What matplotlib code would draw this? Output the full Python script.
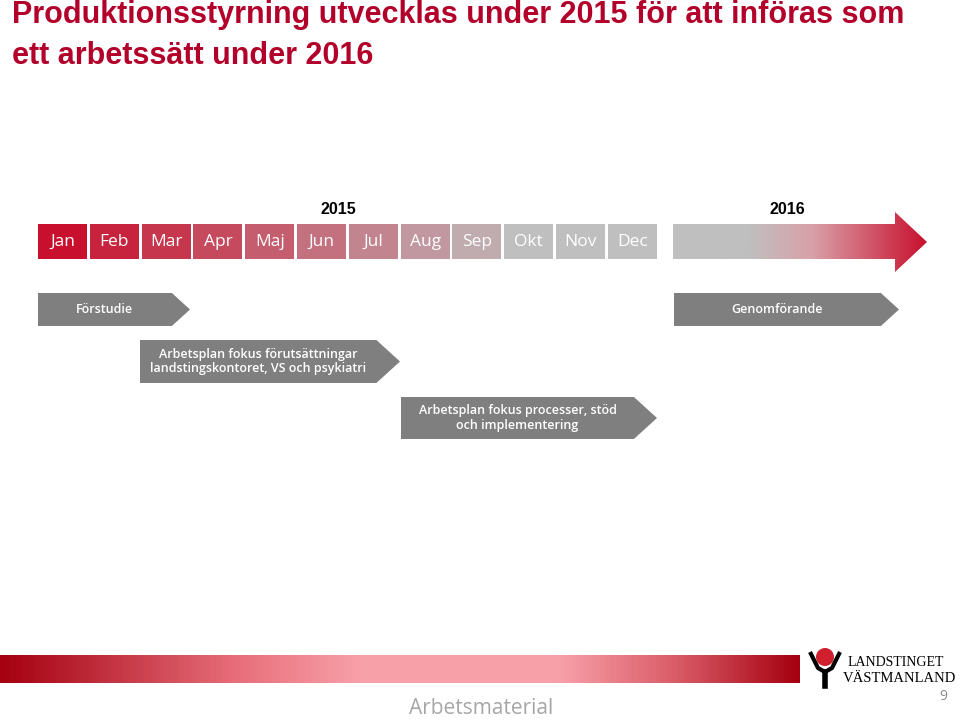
import numpy as np
import matplotlib.pyplot as plt
from matplotlib.patches import Polygon, Rectangle, Circle
from matplotlib.colors import LinearSegmentedColormap, to_rgb

months = ['Jan', 'Feb', 'Mar', 'Apr', 'Maj', 'Jun', 'Jul', 'Aug', 'Sep', 'Okt', 'Nov', 'Dec']
years = ['2015', '2016']
phases = ['Förstudie', 'Genomförande',
          'Arbetsplan fokus förutsättningar\nlandstingskontoret, VS och psykiatri',
          'Arbetsplan fokus processer, stöd\noch implementering']
# x0, x1, y0, y1 in slide pixels
phase_boxes = [(38, 190, 293, 326), (674, 899, 293, 326),
               (140, 400, 340, 383), (401, 657, 397, 439)]

RED = '#c8102e'
GRAY = '#bfbfbf'
PHASE = '#7f7f7f'

fig = plt.figure(figsize=(9.6, 7.21), dpi=100)
ax = fig.add_axes([0, 0, 1, 1])
ax.set_xlim(0, 960)
ax.set_ylim(721, 0)
ax.axis('off')

font = 'Liberation Sans'
ax.text(12, 15, 'Produktionsstyrning utvecklas under 2015 för att införas som',
        color='#b3002a', fontsize=22, fontweight='bold', family=font, va='center')
ax.text(12, 56, 'ett arbetssätt under 2016',
        color='#b3002a', fontsize=22, fontweight='bold', family=font, va='center')

def mix(c1, c2, t):
    a, b = np.array(to_rgb(c1)), np.array(to_rgb(c2))
    return a + (b - a) * t

# months
pitch = 51.8
for i, m in enumerate(months):
    x = 38 + i * pitch
    t = min(i / 9.0, 1.0)
    ax.add_patch(Rectangle((x, 224), 49, 35, color=mix(RED, GRAY, t), lw=0))
    ax.text(x + 24.5, 242, m, color='white', fontsize=12.5, ha='center', va='center', family='Open Sans')

ax.text(338, 209, years[0], fontsize=11.5, fontweight='bold', ha='center', va='center', family=font)
ax.text(787, 209, years[1], fontsize=11.5, fontweight='bold', ha='center', va='center', family=font)

# 2016 arrow with gradient
cmap = LinearSegmentedColormap.from_list('g', [(0, GRAY), (0.3, GRAY), (0.55, '#d9a0a8'), (1, RED)])
arrow = Polygon([(673, 224), (895, 224), (895, 212), (927, 242), (895, 272), (895, 259), (673, 259)],
                closed=True, facecolor='none', edgecolor='none')
ax.add_patch(arrow)
grad = np.linspace(0, 1, 256).reshape(1, -1)
im = ax.imshow(grad, cmap=cmap, extent=(673, 927, 272, 212), aspect='auto')
im.set_clip_path(arrow)

# phases
for label, (x0, x1, y0, y1) in zip(phases, phase_boxes):
    tip = (y1 - y0) * 0.55
    ax.add_patch(Polygon([(x0, y0), (x1 - tip, y0), (x1, (y0 + y1) / 2), (x1 - tip, y1), (x0, y1)],
                         closed=True, color=PHASE, lw=0))
    ax.text((x0 + x1 - tip) / 2, (y0 + y1) / 2, label, color='white', fontsize=9, fontweight='semibold',
            ha='center', va='center', family='Open Sans', linespacing=1.15)

# footer bar
cmap2 = LinearSegmentedColormap.from_list('f', [(0, '#a50010'), (0.3, '#e8707c'), (0.45, '#f7a0a8'),
                                                (0.7, '#f7a0a8'), (0.85, '#d85a66'), (1, '#a50010')])
ax.imshow(grad, cmap=cmap2, extent=(0, 800, 683, 655), aspect='auto')
ax.text(481, 709, 'Arbetsmaterial', color='#a6a6a6', fontsize=15, ha='center', va='center', family='Open Sans')
ax.text(943, 697, '9', color='#8c8c8c', fontsize=10, ha='center', va='center', family='Open Sans')

# logo
ax.add_patch(Circle((825, 657), 9, color='#d0202e', lw=0))
ax.plot([810, 818, 825, 832, 840], [652, 668, 672, 668, 652], color='black', lw=3, solid_capstyle='butt')
ax.plot([825, 825], [672, 686], color='black', lw=4)
ax.text(848, 663, 'LANDSTINGET', fontsize=10, family='Liberation Serif', va='center')
ax.text(843, 678, 'VÄSTMANLAND', fontsize=10.5, family='Liberation Serif', va='center')

fig.savefig('out.png', dpi=100)
